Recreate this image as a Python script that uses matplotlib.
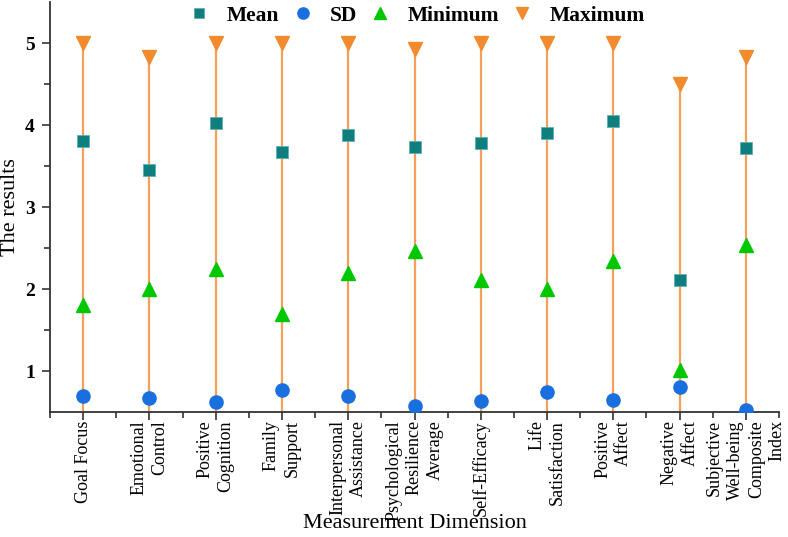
import matplotlib
matplotlib.use("Agg")
import matplotlib.pyplot as plt
import numpy as np

categories = ["Goal Focus", "Emotional\nControl", "Positive\nCognition", "Family\nSupport",
              "Interpersonal\nAssistance", "Psychological\nResilience\nAverage", "Self-Efficacy",
              "Life\nSatisfaction", "Positive\nAffect", "Negative\nAffect",
              "Subjective\nWell-being\nComposite\nIndex"]
mean_vals = [3.81, 3.45, 4.02, 3.67, 3.88, 3.73, 3.78, 3.90, 4.05, 2.11, 3.72]
sd_vals = [0.70, 0.67, 0.62, 0.77, 0.69, 0.57, 0.63, 0.74, 0.65, 0.81, 0.53]
min_vals = [1.81, 2.00, 2.25, 1.69, 2.19, 2.46, 2.11, 2.00, 2.34, 1.01, 2.54]
max_vals = [5.00, 4.83, 5.00, 5.00, 5.00, 4.93, 5.00, 5.00, 5.00, 4.50, 4.83]

plt.rcParams['font.family'] = ['Liberation Serif', 'DejaVu Serif']

fig = plt.figure(figsize=(7.88, 5.37), dpi=100)
ax = fig.add_axes([50/788, 1-412/537, 729/788, 410/537])

x = np.arange(len(categories))
ax.vlines(x, 0.5, max_vals, color='#F5A05A', lw=1.6, zorder=2)
ax.plot(x, mean_vals, ls='none', marker='s', ms=8.5, color='#0E7E7E', mec='#5FB0B0', mew=0.6,
        label='Mean', zorder=4)
ax.plot(x, sd_vals, ls='none', marker='o', ms=9.5, color='#1A6FDF', mec='#1A6FDF',
        label='SD', zorder=4)
ax.plot(x, min_vals, ls='none', marker='^', ms=10, color='#00C800', mec='#00C800',
        label='Minimum', zorder=4)
ax.plot(x, max_vals, ls='none', marker='v', ms=10, color='#F28A2E', mec='#F28A2E',
        label='Maximum', zorder=4)

ax.set_xlim(-0.5, len(categories) - 0.5)
ax.set_ylim(0.5, 5.5)
ax.set_xticks(x)
ax.set_xticklabels(categories, rotation=90, ha='center', va='top', multialignment='right',
                   fontsize=13, linespacing=1.3)
ax.set_xticks(np.arange(-0.5, len(categories), 1.0), minor=True)
ax.set_yticks([1, 2, 3, 4, 5])
ax.set_yticks([1.5, 2.5, 3.5, 4.5], minor=True)
for lab in ax.get_yticklabels():
    lab.set_fontweight('bold')
    lab.set_fontsize(14)
ax.tick_params(axis='x', which='major', length=5.5, width=1.2, color='#333333', pad=0.5)
ax.tick_params(axis='x', which='minor', length=4, width=1.2, color='#333333')
ax.tick_params(axis='y', which='major', length=6, width=1.2, color='#333333', pad=5)
ax.tick_params(axis='y', which='minor', length=4, width=1.2, color='#333333')

for s in ['top', 'right']:
    ax.spines[s].set_visible(False)
for s in ['left', 'bottom']:
    ax.spines[s].set_linewidth(1.3)
    ax.spines[s].set_color('#333333')

fig.text(11/788, 1-207/537, 'The results', fontsize=16, rotation=90, ha='center', va='center')
fig.text(415/788, 1-523/537, 'Measurement Dimension', fontsize=16, ha='center', va='center')

leg = ax.legend(loc='upper center', bbox_to_anchor=(0.503, 1.012), ncol=4, frameon=False,
                prop={'size': 15.5, 'weight': 'bold'}, handlelength=1.0, handletextpad=0.75,
                columnspacing=0.6, markerscale=0.85, borderaxespad=0)

fig.savefig('out.png', dpi=100)
